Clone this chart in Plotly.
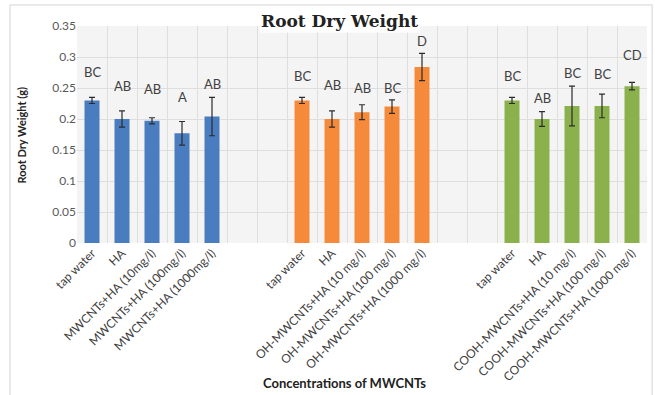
import plotly.graph_objects as go

# Treatment groups: untreated, MWCNTs, OH-MWCNTs, COOH-MWCNTs
labels_plain = ["tap water", "HA", "MWCNTs+HA (10mg/l)", "MWCNTs+HA (100mg/l)", "MWCNTs+HA (1000mg/l)"]
labels_oh = ["tap water", "HA", "OH-MWCNTs+HA (10 mg/l)", "OH-MWCNTs+HA (100 mg/l)", "OH-MWCNTs+HA (1000 mg/l)"]
labels_cooh = ["tap water", "HA", "COOH-MWCNTs+HA (10 mg/l)", "COOH-MWCNTs+HA (100 mg/l)", "COOH-MWCNTs+HA (1000 mg/l)"]

# Root dry weight (g), means and standard errors
mean_plain = [0.230, 0.200, 0.197, 0.177, 0.204]
err_plain = [0.005, 0.013, 0.005, 0.019, 0.031]
mean_oh = [0.230, 0.200, 0.211, 0.220, 0.284]
err_oh = [0.005, 0.013, 0.012, 0.011, 0.022]
mean_cooh = [0.230, 0.200, 0.221, 0.221, 0.253]
err_cooh = [0.005, 0.012, 0.032, 0.019, 0.006]

# Significance letters
letters_plain = ["BC", "AB", "AB", "A", "AB"]
letters_oh = ["BC", "AB", "AB", "BC", "D"]
letters_cooh = ["BC", "AB", "BC", "BC", "CD"]

groups = [
    (labels_plain, mean_plain, err_plain, letters_plain, "#4a7cc0"),
    (labels_oh, mean_oh, err_oh, letters_oh, "#f58b3a"),
    (labels_cooh, mean_cooh, err_cooh, letters_cooh, "#8bb14c"),
]

# pixel lift of each letter above its error bar
letter_lift = [[15, 15, 19, 14, 3], [11, 16, 7, 2, 2], [11, 4, 3, 10, 17]]

FONT = "Lato, Open Sans, sans-serif"
GROUP_STEP = 7  # five bars plus two empty slots
fig = go.Figure()
tickvals, ticktext = [], []
annotations = []
for g, (labs, means, errs, lets, color) in enumerate(groups):
    xs = [g * GROUP_STEP + i for i in range(len(labs))]
    tickvals += xs
    ticktext += labs
    fig.add_trace(go.Bar(
        x=xs, y=means, width=0.5, marker=dict(color=color, line=dict(width=0)),
        error_y=dict(type="data", array=errs, color="#2b2b2b", thickness=1.2, width=3),
        showlegend=False,
    ))
    for x, m, e, t, lift in zip(xs, means, errs, lets, letter_lift[g]):
        annotations.append(dict(
            x=x, y=m + e, xref="x", yref="y", text=t, showarrow=False,
            yanchor="bottom", yshift=lift,
            font=dict(family=FONT, size=13, color="#404040"),
        ))

# chart title
annotations.append(dict(
    x=0.46, y=1.0, xref="paper", yref="paper", text="<b>Root Dry Weight</b>",
    showarrow=False, yanchor="middle", yshift=5,
    font=dict(family="DejaVu Serif, serif", size=17, color="#222222"),
    bgcolor="white",
))
# axis titles
annotations.append(dict(
    x=0.47, y=-0.645, xref="paper", yref="paper", text="<b>Concentrations of MWCNTs</b>",
    showarrow=False, yanchor="middle",
    font=dict(family=FONT, size=13, color="#222222"),
))
annotations.append(dict(
    x=-0.0965, y=0.5, xref="paper", yref="paper", text="<b>Root Dry Weight (g)</b>",
    showarrow=False, textangle=-90, xanchor="center", yanchor="middle",
    font=dict(family=FONT, size=11, color="#222222"),
))

n_slots = 3 * GROUP_STEP - 2
fig.update_layout(
    width=655, height=395,
    margin=dict(l=77, r=8, t=26, b=152),
    paper_bgcolor="white", plot_bgcolor="#f4f4f4",
    barmode="overlay",
    annotations=annotations,
    shapes=[dict(type="rect", xref="paper", yref="paper",
                 x0=-0.1175, x1=1.009, y0=-0.72, y1=1.097,
                 line=dict(color="#d4d4d4", width=1), fillcolor="rgba(0,0,0,0)", layer="below")],
    xaxis=dict(
        range=[-0.5, n_slots - 0.5],
        tickmode="array", tickvals=tickvals, ticktext=ticktext, tickangle=-45,
        tickfont=dict(family=FONT, size=12, color="#404040"),
        showgrid=False, zeroline=False, ticks="",
        minor=dict(tick0=-0.5, dtick=1, showgrid=True, gridcolor="#dedede", gridwidth=1),
        showline=False,
    ),
    yaxis=dict(
        range=[0, 0.35], dtick=0.05, tick0=0,
        tickfont=dict(family=FONT, size=12, color="#595959"),
        gridcolor="#dedede", gridwidth=1, zeroline=False, showline=False,
    ),
)

fig.write_html("out.html")
